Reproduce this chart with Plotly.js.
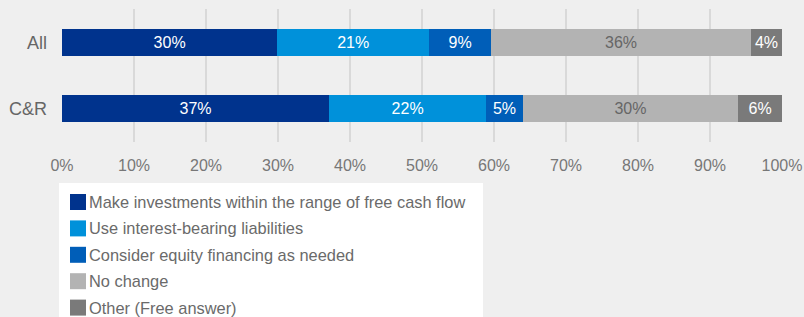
<!DOCTYPE html>
<html>
<head>
<meta charset="utf-8">
<script src="https://cdn.plot.ly/plotly-3.0.1.min.js"></script>
<style>
html,body{margin:0;padding:0;background:#efefef;}
#chart{width:804px;height:317px;}
</style>
</head>
<body>
<div id="chart"></div>
<script>
// ---- data ----
const categories = ['All', 'C&R'];
const seriesNames = [
  'Make investments within the range of free cash flow',
  'Use interest-bearing liabilities',
  'Consider equity financing as needed',
  'No change',
  'Other (Free answer)'
];
const investFCF = [29.9, 37.1];
const interestLiab = [21.1, 21.8];
const equityFin = [8.6, 5.1];
const noChange = [36.1, 29.9];
const otherAns = [4.3, 6.1];
const tickValues = [0, 10, 20, 30, 40, 50, 60, 70, 80, 90, 100];
const tickLabels = ['0%', '10%', '20%', '30%', '40%', '50%', '60%', '70%', '80%', '90%', '100%'];

// ---- styles ----
const colors = ['#00338D', '#0091DA', '#005EB8', '#B3B3B3', '#7A7A7A'];
const textColors = ['#ffffff', '#ffffff', '#ffffff', '#666666', '#ffffff'];
const FONT = '"Liberation Sans", Arial, sans-serif';
const W = 804, H = 317;
const M = {l: 62, r: 22, t: 9, b: 175};
const plotW = W - M.l - M.r, plotH = H - M.t - M.b;
const px2x = p => (p - M.l) / plotW;
const px2y = p => (H - M.b - p) / plotH;

const seriesVals = [investFCF, interestLiab, equityFin, noChange, otherAns];
const traces = seriesVals.map((vals, i) => ({
  type: 'bar',
  orientation: 'h',
  name: seriesNames[i],
  y: categories,
  x: vals,
  marker: {color: colors[i], line: {width: 0}},
  texttemplate: '%{x:.0f}%',
  textposition: 'inside',
  insidetextanchor: 'middle',
  constraintext: 'none',
  textfont: {family: FONT, size: 16, color: textColors[i]},
  hoverinfo: 'skip',
  showlegend: false
}));

// custom legend
const shapes = [{
  type: 'rect', xref: 'paper', yref: 'paper',
  x0: px2x(59), x1: px2x(483), y0: px2y(183), y1: px2y(330),
  fillcolor: '#ffffff', line: {width: 0}, layer: 'below'
}];
const annotations = [];
seriesNames.forEach((n, i) => {
  const cy = 202 + i * 26.4;
  shapes.push({
    type: 'rect', xref: 'paper', yref: 'paper',
    x0: px2x(70), x1: px2x(86), y0: px2y(cy - 8), y1: px2y(cy + 8),
    fillcolor: colors[i], line: {width: 0}
  });
  annotations.push({
    xref: 'paper', yref: 'paper', x: px2x(87), y: px2y(cy),
    xanchor: 'left', yanchor: 'middle', showarrow: false,
    text: n, font: {family: FONT, size: 16.4, color: '#6a6a6a'}
  });
});

const layout = {
  width: W, height: H,
  margin: M,
  paper_bgcolor: '#efefef',
  plot_bgcolor: '#efefef',
  barmode: 'stack',
  bargap: 0.6,
  showlegend: false,
  font: {family: FONT, color: '#666666'},
  xaxis: {
    range: [0, 100],
    tickvals: tickValues,
    ticktext: tickLabels,
    showgrid: true,
    gridcolor: '#d9d9d9',
    gridwidth: 2,
    zeroline: false,
    showline: false,
    ticks: '',
    tickfont: {family: FONT, size: 16, color: '#777777'},
    ticklabelstandoff: 12,
    fixedrange: true
  },
  yaxis: {
    type: 'category',
    autorange: 'reversed',
    showgrid: false,
    zeroline: false,
    showline: false,
    ticks: '',
    tickfont: {family: FONT, size: 18, color: '#666666'},
    ticklabelstandoff: 14,
    fixedrange: true
  },
  shapes: shapes,
  annotations: annotations
};

Plotly.newPlot('chart', traces, layout, {displayModeBar: false, staticPlot: true});
</script>
</body>
</html>
